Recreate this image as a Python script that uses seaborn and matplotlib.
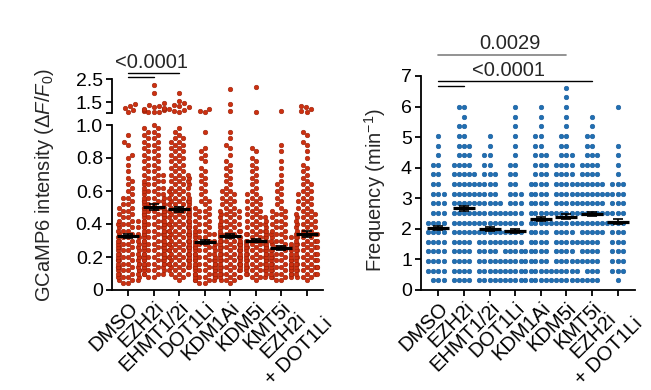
import warnings
warnings.filterwarnings('ignore')

import numpy as np
import pandas as pd
import matplotlib
matplotlib.use('Agg')
import matplotlib.pyplot as plt
import seaborn as sns

# categories
groups = ['DMSO', 'EZH2i', 'EHMT1/2i', 'DOT1Li', 'KDM1Ai', 'KDM5i', 'KMT5i', 'EZH2i\n+ DOT1Li']

# GCaMP6 intensity: number of cells per 0.02 level
int_levels = [0.04, 0.06, 0.08, 0.10, 0.12, 0.14, 0.16, 0.18, 0.20, 0.22,
              0.24, 0.26, 0.28, 0.30, 0.32, 0.34, 0.36, 0.38, 0.40, 0.42,
              0.44, 0.46, 0.48, 0.50, 0.52, 0.54, 0.56, 0.58, 0.60, 0.62,
              0.64, 0.66, 0.68, 0.70, 0.72, 0.74, 0.76, 0.78, 0.80, 0.82,
              0.84, 0.86, 0.88, 0.90, 0.92, 0.94, 0.96, 0.98, 1.00]
int_dmso = [2,3,4,4,5,5,5,5,5,4, 4,4,4,4,4,3,3,3,3,3, 2,2,2,2,2,1,2,1,1,1, 1,1,1,0,1,0,1,0,1,1, 0,0,1,1,0,1,0,0,0]
int_ezh2 = [0,0,2,4,4,4,5,5,5,5, 5,5,5,5,5,5,5,5,5,5, 5,5,5,5,4,4,4,3,3,3, 3,3,2,3,2,2,2,2,2,2, 2,2,2,2,2,2,2,2,1]
int_ehmt = [0,1,2,3,3,4,5,5,5,5, 5,5,5,5,5,5,5,5,5,5, 4,4,4,4,4,4,4,3,3,3, 3,3,3,3,2,2,2,2,2,2, 2,2,2,2,2,1,1,1,0]
int_dot1l = [2,4,5,5,5,5,5,5,4,4, 4,4,4,3,3,3,3,2,2,2, 2,2,2,2,1,2,1,1,1,1, 1,1,1,1,1,1,0,1,1,1, 1,1,0,0,0,0,1,0,0]
int_kdm1a = [1,3,4,4,4,5,5,5,5,5, 5,5,5,5,4,4,4,4,3,3, 3,3,3,2,2,2,2,2,2,1, 1,1,1,1,1,1,1,1,0,1, 0,1,1,0,1,0,1,0,0]
int_kdm5 = [0,1,3,4,5,5,5,5,5,5, 5,5,5,4,4,4,4,3,3,3, 3,2,2,2,2,2,2,2,1,1, 1,1,1,1,1,1,1,1,1,0, 1,1,0,0,0,0,0,0,0]
int_kmt5 = [0,2,4,5,5,5,5,5,4,4, 4,3,3,3,3,3,2,2,2,2, 2,2,2,1,1,1,1,1,1,1, 1,1,0,1,0,1,0,1,0,0, 1,0,1,0,0,0,0,0,0]
int_combo = [0,1,3,4,4,5,4,4,4,4, 4,4,4,4,4,4,3,3,3,3, 3,3,2,2,2,2,2,2,2,1, 2,1,1,1,1,1,1,0,1,0, 1,0,1,1,0,1,1,0,0]

# values above the axis break
hi_dmso = [1.08, 1.15, 1.25, 1.35, 1.42]
hi_ezh2 = [1.06, 1.08, 1.10, 1.12, 1.15, 1.18, 1.20, 1.22, 1.25, 1.30, 1.35, 1.40, 1.45, 1.90, 2.23]
hi_ehmt = [1.08, 1.12, 1.18, 1.22, 1.28, 1.32, 1.38, 1.45, 1.55, 1.90]
hi_dot1l = [1.08, 1.13, 1.20]
hi_kdm1a = [1.14, 1.41, 2.07]
hi_kdm5 = [1.10, 2.15]
hi_kmt5 = [1.12]
hi_combo = [1.06, 1.12, 1.20, 1.28, 1.35]

mean_int = [0.325, 0.505, 0.49, 0.29, 0.325, 0.30, 0.255, 0.34]
sem_int = [0.012, 0.018, 0.016, 0.012, 0.012, 0.010, 0.010, 0.016]

# Frequency: number of cells per event level
freq_levels = [0.315, 0.63, 0.945, 1.26, 1.575, 1.89, 2.205, 2.52, 2.835, 3.15, 3.465,
               3.78, 4.095, 4.41, 4.725, 5.04, 5.355, 5.67, 5.985, 6.3, 6.615]
fq_dmso = [3,4,4,4,4,4,4,3,3,3,2,2,2,1,1,1,0,0,0,0,0]
fq_ezh2 = [4,4,4,4,4,5,5,5,5,5,5,5,4,3,3,2,2,1,2,0,0]
fq_ehmt = [5,5,5,4,5,5,5,5,5,4,4,3,2,2,1,1,0,0,0,0,0]
fq_dot1l = [5,5,5,5,4,4,4,4,3,3,2,2,2,1,1,1,1,1,1,0,0]
fq_kdm1a = [5,5,4,4,4,4,5,5,4,4,4,3,3,3,2,2,1,1,1,0,0]
fq_kdm5 = [5,5,5,4,5,4,5,5,5,5,5,4,4,3,2,2,1,1,1,1,1]
fq_kmt5 = [4,3,4,4,4,5,5,5,5,5,5,4,4,3,2,2,1,1,0,0,0]
fq_combo = [1,3,3,3,3,3,4,4,3,4,3,1,1,1,1,0,0,0,1,0,0]

mean_freq = [2.02, 2.67, 2.00, 1.92, 2.32, 2.40, 2.48, 2.24]
sem_freq = [0.06, 0.07, 0.06, 0.07, 0.07, 0.07, 0.06, 0.08]

RED = '#cc3010'
RED_EDGE = '#9a2008'
BLUE = '#1f6fb2'
BLUE_EDGE = '#17589a'


def long_table(levels, counts):
    rows = []
    for g, c in zip(groups, counts):
        for v, n in zip(levels, c):
            rows += [(g, v)] * n
    return pd.DataFrame(rows, columns=['group', 'value'])


def list_table(lists):
    rows = []
    for g, vals in zip(groups, lists):
        rows += [(g, v) for v in vals]
    return pd.DataFrame(rows, columns=['group', 'value'])


df_int = long_table(int_levels, [int_dmso, int_ezh2, int_ehmt, int_dot1l,
                                 int_kdm1a, int_kdm5, int_kmt5, int_combo])
df_hi = list_table([hi_dmso, hi_ezh2, hi_ehmt, hi_dot1l,
                    hi_kdm1a, hi_kdm5, hi_kmt5, hi_combo])
df_freq = long_table(freq_levels, [fq_dmso, fq_ezh2, fq_ehmt, fq_dot1l,
                                   fq_kdm1a, fq_kdm5, fq_kmt5, fq_combo])

sns.set_style('ticks')
plt.rcParams['font.family'] = ['Liberation Sans', 'DejaVu Sans']
plt.rcParams['mathtext.fontset'] = 'custom'
plt.rcParams['mathtext.rm'] = 'Liberation Sans'
plt.rcParams['mathtext.it'] = 'Liberation Sans:italic'
plt.rcParams['axes.linewidth'] = 1.3
plt.rcParams['xtick.major.width'] = 1.3
plt.rcParams['ytick.major.width'] = 1.3
plt.rcParams['xtick.major.size'] = 4
plt.rcParams['ytick.major.size'] = 4.5
plt.rcParams['xtick.color'] = 'black'
plt.rcParams['ytick.color'] = 'black'
plt.rcParams['axes.edgecolor'] = 'black'

W, H = 651, 390
fig = plt.figure(figsize=(6.51, 3.9), dpi=100)


def box(x0, x1, ytop, ybot):
    return [x0 / W, 1 - ybot / H, (x1 - x0) / W, (ybot - ytop) / H]


ax_lo = fig.add_axes(box(112, 323, 125, 290))
ax_hi = fig.add_axes(box(112, 323, 79, 112.7))
ax_fr = fig.add_axes(box(421, 635, 76, 290))

xs = np.arange(len(groups))
swarm_kw = dict(x='group', y='value', order=groups, size=3.3, linewidth=0.4)

sns.swarmplot(data=df_int, ax=ax_lo, color=RED, edgecolor=RED_EDGE, **swarm_kw)
sns.swarmplot(data=df_hi, ax=ax_hi, color=RED, edgecolor=RED_EDGE, **swarm_kw)
sns.swarmplot(data=df_freq, ax=ax_fr, color=BLUE, edgecolor=BLUE_EDGE, **swarm_kw)

for ax in (ax_lo, ax_hi, ax_fr):
    for coll in ax.collections:
        coll.set_clip_on(False)

# mean +/- s.e.m.
for ax, m, e in ((ax_lo, mean_int, sem_int), (ax_fr, mean_freq, sem_freq)):
    ax.hlines(m, xs - 0.43, xs + 0.43, color='black', lw=2.3, zorder=6)
    ax.errorbar(xs, m, yerr=e, fmt='none', ecolor='black', elinewidth=1.2,
                capsize=3.5, capthick=1.2, zorder=6)

tick_fs = 14
lab_fs = 14.5
label_kw = dict(rotation=45, ha='right', va='top', rotation_mode='anchor',
                multialignment='center', fontsize=lab_fs)

# left lower axis
ax_lo.set_xlim(-0.64, 7.64)
ax_lo.set_ylim(0, 1.0)
ax_lo.set_yticks([0, 0.2, 0.4, 0.6, 0.8, 1.0])
ax_lo.set_yticklabels(['0', '0.2', '0.4', '0.6', '0.8', '1.0'], fontsize=tick_fs)
ax_lo.set_xticks(xs)
ax_lo.set_xticklabels(groups, **label_kw)
ax_lo.set_xlabel('')
ax_lo.set_ylabel('')

# left upper axis (above the break)
ax_hi.set_xlim(-0.64, 7.64)
ax_hi.set_ylim(1.05, 2.5)
ax_hi.set_yticks([1.05, 1.5, 2.5])
ax_hi.set_yticklabels(['', '1.5', '2.5'], fontsize=tick_fs)
ax_hi.set_xticks([])
ax_hi.set_xlabel('')
ax_hi.set_ylabel('')

# right axis
ax_fr.set_xlim(-0.68, 7.68)
ax_fr.set_ylim(0, 7)
ax_fr.set_yticks(range(8))
ax_fr.set_yticklabels([str(i) for i in range(8)], fontsize=tick_fs)
ax_fr.set_xticks(xs)
ax_fr.set_xticklabels(groups, **label_kw)
ax_fr.set_xlabel('')
ax_fr.set_ylabel('')

for ax in (ax_lo, ax_hi, ax_fr):
    sns.despine(ax=ax)
    ax.tick_params(axis='y', pad=2)
    ax.tick_params(axis='x', pad=2)
    ax.patch.set_alpha(0)
ax_hi.spines['bottom'].set_visible(False)

fig.text(45 / W, 1 - 185 / H, 'GCaMP6 intensity ($\\Delta F/F_0$)', rotation=90,
         ha='center', va='center', fontsize=14.5)
fig.text(375 / W, 1 - 190 / H, 'Frequency (min$^{-1}$)', rotation=90,
         ha='center', va='center', fontsize=14.5)

# significance brackets
ax_hi.plot([0, 2], [2.745, 2.745], color='black', lw=1, clip_on=False)
ax_hi.plot([0, 1], [2.60, 2.60], color='black', lw=1, clip_on=False)
ax_hi.text(0.9, 3.23, '<0.0001', ha='center', va='center', fontsize=14.5)

ax_fr.plot([0, 5], [7.68, 7.68], color='#808080', lw=1.2, clip_on=False)
ax_fr.text(2.8, 8.07, '0.0029', ha='center', va='center', fontsize=14.5)
ax_fr.plot([0, 6], [6.83, 6.83], color='black', lw=1, clip_on=False)
ax_fr.text(2.72, 7.19, '<0.0001', ha='center', va='center', fontsize=14.5)
ax_fr.plot([0, 1], [6.67, 6.67], color='black', lw=1, clip_on=False)

fig.savefig('out.png', dpi=100)
